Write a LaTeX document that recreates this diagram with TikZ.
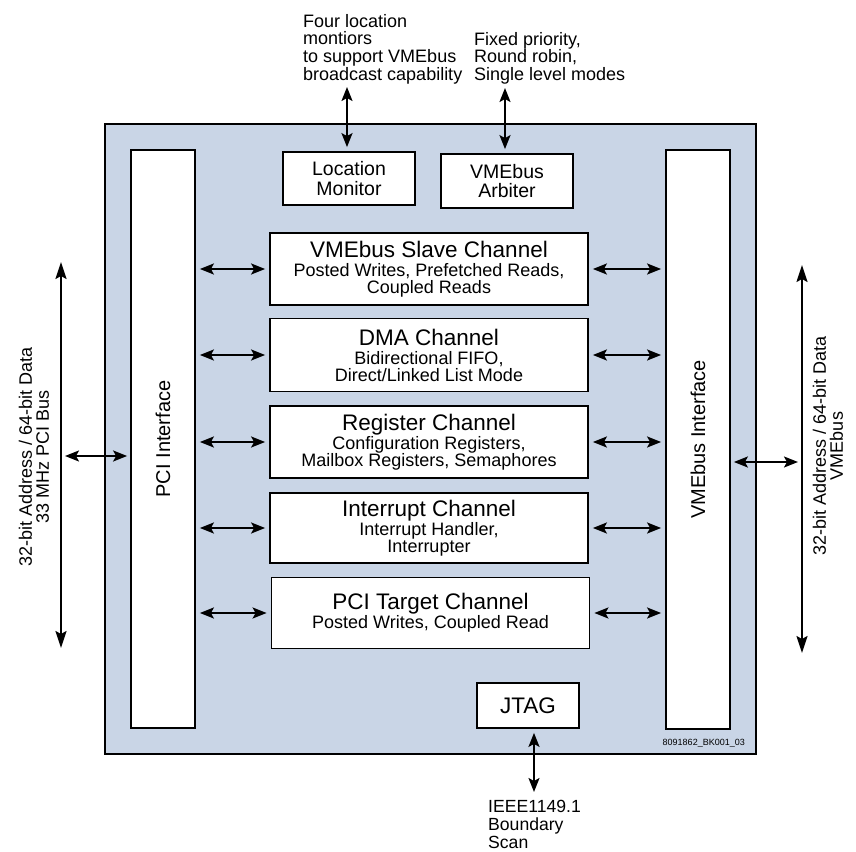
\documentclass[tikz,border=0pt]{standalone}
\usepackage{fontspec}
\setmainfont{Liberation Sans}
\usepackage{graphicx}
\usetikzlibrary{arrows.meta}
\definecolor{chipfill}{RGB}{201,213,230}
\newcommand{\tightlines}{\lineskiplimit=-30pt\relax}
\newcommand{\ttlf}{\fontsize{22.5}{22.5}\selectfont}
\newcommand{\subf}{\fontsize{18}{16.7}\selectfont}
\tikzset{
  box/.style={draw=black, line width=1.8pt, fill=white, inner sep=0pt, align=center},
  chbox/.style={box, minimum width=318pt, font=\subf\tightlines},
  link/.style={line width=2pt, {Stealth[length=14pt,width=11pt,inset=3pt]}-{Stealth[length=14pt,width=11pt,inset=3pt]}, shorten <=4pt, shorten >=4pt},
  bus/.style={line width=2pt, {Stealth[length=17pt,width=11pt,inset=3pt]}-{Stealth[length=17pt,width=11pt,inset=3pt]}},
  note/.style={inner sep=0pt, align=left, anchor=north west, font=\fontsize{18}{17.7}\selectfont\tightlines},
}
\begin{document}
\begin{tikzpicture}[x=1pt,y=-1pt]
\useasboundingbox (0,0) rectangle (856,851);
% main chip
\node[draw=black, line width=1.8pt, fill=chipfill, minimum width=651pt, minimum height=630pt, inner sep=0pt] (chip) at (430.5,439) {};
% interfaces
\node[box, minimum width=64pt, minimum height=578pt, font=\fontsize{20}{20}\selectfont] (pci) at (163,439) {\rotatebox{90}{PCI Interface}};
\node[box, minimum width=64pt, minimum height=579pt, font=\fontsize{20}{20}\selectfont] (vme) at (698,439.5) {\rotatebox{90}{VMEbus Interface}};
% top boxes
\node[box, minimum width=132pt, minimum height=53pt, font=\fontsize{19.5}{19.5}\selectfont\tightlines] (lm) at (349,178.5) {Location\\Monitor};
\node[box, minimum width=132pt, minimum height=54pt, font=\fontsize{19.5}{19.5}\selectfont\tightlines] (arb) at (507,181) {VMEbus\\Arbiter};
% channels
\node[chbox, minimum height=72pt] (slave) at (429,269) {\ttlf VMEbus Slave Channel\\[2.7pt]Posted Writes, Prefetched Reads,\\Coupled Reads};
\node[chbox, minimum height=73pt] (dma) at (429,355) {\ttlf DMA Channel\\[2.7pt]Bidirectional FIFO,\\Direct/Linked List Mode};
\node[chbox, minimum height=72pt] (reg) at (429,442) {\ttlf Register Channel\\[2.7pt]Configuration Registers,\\Mailbox Registers, Semaphores};
\node[chbox, minimum height=70pt] (irq) at (429,528) {\ttlf Interrupt Channel\\[2.7pt]Interrupt Handler,\\Interrupter};
\node[chbox, minimum height=71pt] (pcit) at (430.5,613) {\ttlf PCI Target Channel\\[2.7pt]Posted Writes, Coupled Read};
% JTAG
\node[box, minimum width=102pt, minimum height=45pt, font=\fontsize{22.5}{22.5}\selectfont] (jtag) at (528,705.5) {JTAG};
% channel links
\foreach \c in {slave,dma,reg,irq,pcit}{
  \draw[link] (pci.east |- \c.west) -- (\c.west);
  \draw[link] (\c.east) -- (vme.west |- \c.east);
}
% top annotations
\node[note] (lmnote) at (303,14) {Four location\\montiors\\to support VMEbus\\broadcast capability};
\node[note] (arbnote) at (474,32) {Fixed priority,\\Round robin,\\Single level modes};
\coordinate (lmtop) at (347,87);
\coordinate (arbtop) at (505,88);
\draw[link, shorten <=0pt] (lmtop) -- (lm.north -| lmtop);
\draw[link, shorten <=0pt] (arbtop) -- (arb.north -| arbtop);
% JTAG
\coordinate (jtagbot) at (534,792);
\draw[link, shorten >=0pt] (jtag.south -| jtagbot) -- (jtagbot);
\node[note, font=\fontsize{17.6}{18}\selectfont\tightlines] (ieee) at (488,800) {IEEE1149.1\\Boundary\\Scan};
% PCI bus
\coordinate (pcibt) at (61,262);
\coordinate (pcibb) at (61,648);
\draw[bus] (pcibt) -- (pcibb);
\coordinate (pcitap) at (65,456);
\draw[link, shorten <=0pt, shorten >=3pt] (pcitap) -- (pci.west |- pcitap);
\node[rotate=90, align=center, inner sep=0pt, font=\fontsize{18}{17}\selectfont\tightlines] (pcilbl) at (34,457) {32-bit Address / 64-bit Data\\33 MHz PCI Bus};
% VME bus
\coordinate (vmebt) at (802,265);
\coordinate (vmebb) at (802,653);
\draw[bus] (vmebt) -- (vmebb);
\coordinate (vmetap) at (798,462);
\draw[link, shorten <=3pt, shorten >=0pt] (vme.east |- vmetap) -- (vmetap);
\node[rotate=90, align=center, inner sep=0pt, font=\fontsize{18}{17}\selectfont\tightlines] (vmelbl) at (828,446) {32-bit Address / 64-bit Data\\VMEbus};
% figure id
\node[anchor=east, inner sep=0pt, font=\fontsize{9}{9}\selectfont] (figid) at (745,743) {8091862\_BK001\_03};
\end{tikzpicture}
\end{document}
